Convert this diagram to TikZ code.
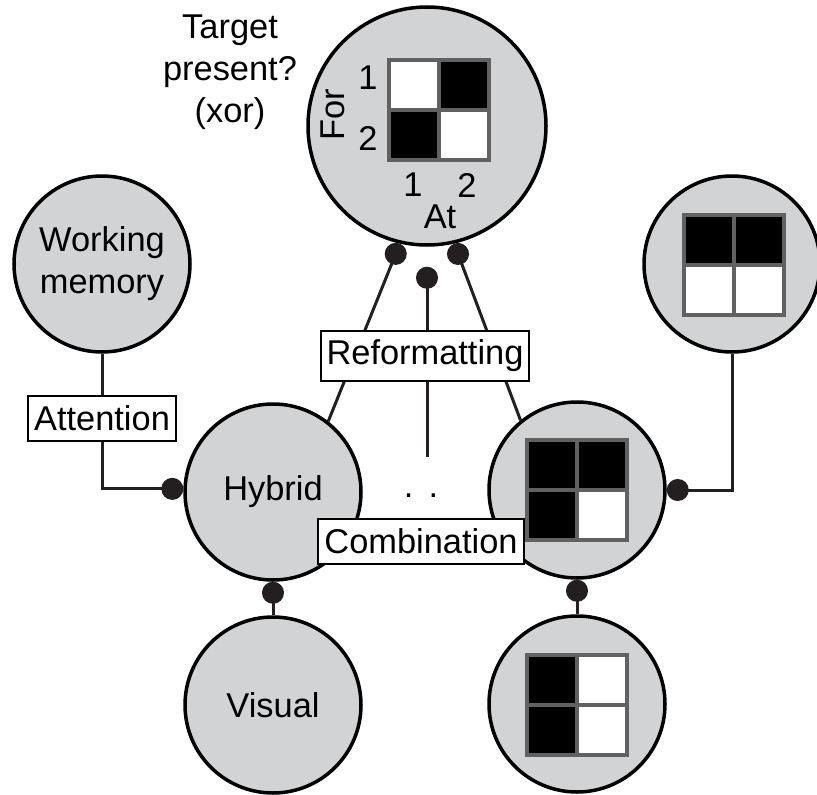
\documentclass[tikz,border=0pt]{standalone}
\usepackage{fontspec}
\setmainfont{Liberation Sans}
\usetikzlibrary{arrows.meta}
\definecolor{unitfill}{HTML}{D1D3D4}
\definecolor{ink}{HTML}{231F20}
\definecolor{cellgap}{HTML}{616161}
\newcommand{\cellgrid}[5]{%
  \begin{scope}[shift={#1}]
    \fill[cellgap] (-52,-52) rectangle (52,52);
    \fill[#2] (-48,-48) rectangle (-2,-2);
    \fill[#3] (2,-48) rectangle (48,-2);
    \fill[#4] (-48,2) rectangle (-2,48);
    \fill[#5] (2,2) rectangle (48,48);
  \end{scope}}
\tikzset{
  unit/.style={circle,draw=black,fill=unitfill,line width=3.5pt,inner sep=0pt,minimum size=#1},
  unit/.default=176pt,
  opbox/.style={draw=black,fill=white,line width=2pt,inner xsep=6pt,inner ysep=0pt,minimum height=45pt},
  link/.style={draw=ink,line width=3pt,-{Circle[length=22pt,fill=ink]}},
}
\begin{document}
\begin{tikzpicture}[x=1pt,y=-1pt,font=\fontsize{34.4}{42}\selectfont]
  \useasboundingbox (0,0) rectangle (817,795);
  \path (427,126) node[unit=238pt] (target) {};
  \path (102,264) node[unit,align=center] (memory) {Working\\memory};
  \path (273,492) node[unit] (hybrid) {Hybrid};
  \path (273,705) node[unit] (visual) {Visual};
  \path (577,490) node[unit] (conj) {};
  \path (732,264) node[unit] (upper) {};
  \path (577,704) node[unit] (lower) {};

  \cellgrid{(439,110)}{white}{black}{black}{white}
  \cellgrid{(577,490)}{black}{black}{black}{white}
  \cellgrid{(734,265)}{black}{black}{white}{white}
  \cellgrid{(577,705)}{black}{white}{black}{white}

  \path (230,72) node[align=center,inner sep=0pt] (question) {Target\\present?\\(xor)};
  \path (368,78) node (for1) {1};
  \path (368,138) node (for2) {2};
  \path (333,115) node[rotate=90] (for) {For};
  \path (413,185) node (at1) {1};
  \path (467,185) node (at2) {2};
  \path (440,217) node (at) {At};

  \coordinate (gap) at (427,457);
  \draw[link] (hybrid.52) -- (target.257);
  \draw[link] (conj.129) -- (target.283);
  \draw[link,shorten >=20pt] (gap) -- (target.south);
  \draw[link] (memory.south) |- node[pos=0.24,opbox] (attention) {Attention} (hybrid.178);
  \draw[link] (upper.south) |- (conj.east);
  \draw[link] (visual) -- (hybrid);
  \draw[link] (lower) -- (conj);

  \path (425,356) node[opbox,minimum height=50pt] (reformat) {Reformatting};
  \path (421,541) node[opbox] (combine) {Combination};
  \path (421,497) node[anchor=base] (more) {.\hspace{15pt}.};
\end{tikzpicture}
\end{document}
